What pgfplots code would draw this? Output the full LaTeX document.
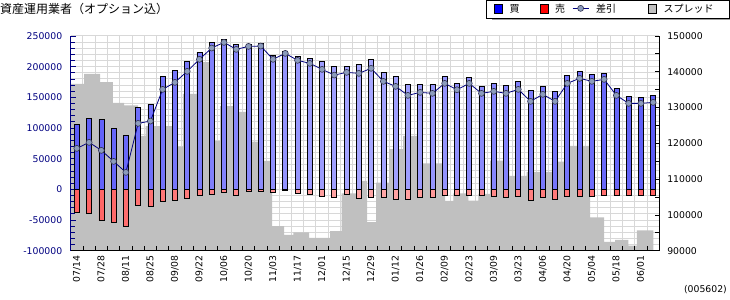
\documentclass[border=0pt]{standalone}
\usepackage{pgfplots}
\pgfplotsset{compat=1.18}
\usepackage{pgfplotstable}
\usepackage{fontspec}
\setmainfont{DejaVu Sans}
\newfontfamily\cjk{Noto Sans CJK JP}
\definecolor{navy}{HTML}{000080}
\definecolor{buyc}{HTML}{5C5CF8}
\definecolor{buyl}{HTML}{A8A8FF}
\definecolor{sellc}{HTML}{FF6060}
\definecolor{selll}{HTML}{FFAAAA}
\definecolor{spr}{HTML}{C0C0C0}
\definecolor{gridc}{HTML}{D8D8D8}
\definecolor{mk}{HTML}{8C9CBC}
\definecolor{mkd}{HTML}{303050}

\pgfplotstableread{
x buy sell net
0 105500 -37500 66800
1 115700 -39000 76600
2 114000 -51000 63600
3 99400 -53800 45600
4 88000 -60300 27700
5 133700 -26000 107600
6 138600 -27700 111300
7 184200 -20200 163000
8 194000 -18500 174400
9 208700 -15300 192400
10 223300 -9800 212000
11 239600 -8200 230400
12 243900 -5500 239600
13 236400 -10400 228200
14 236900 -3900 233100
15 238000 -3900 233600
16 217800 -5500 212000
17 225000 -1700 221700
18 216200 -7100 210300
19 212900 -8800 205400
20 208000 -11400 195600
21 200500 -13000 186300
22 200500 -8200 190700
23 204000 -14700 189100
24 212000 -13000 197300
25 190700 -13000 176100
26 184200 -16300 167900
27 171200 -16300 153200
28 171200 -13000 158100
29 171200 -13000 156500
30 184200 -9800 172800
31 172800 -9800 162400
32 182600 -9800 172800
33 167900 -9800 156500
34 172800 -11400 159800
35 169500 -13000 156500
36 176100 -11400 163000
37 161400 -17900 143500
38 167900 -13000 154900
39 159800 -16300 143500
40 185800 -11400 172800
41 192400 -11400 181000
42 187500 -11400 176100
43 189100 -9800 179300
44 164700 -9800 153200
45 151600 -9800 140200
46 150000 -9800 140200
47 153200 -9800 141800
}\flows

\pgfplotstableread{
x spread
-0.5 136600
0.59 139400
1.89 137100
2.93 131300
3.85 130600
5.00 122100
5.62 124800
7.76 119100
8.64 133800
9.78 142700
10.86 120600
11.68 130400
12.98 128800
14.04 120500
15.10 115100
15.92 96900
16.90 94400
17.66 95100
18.94 93600
20.65 95500
21.60 106000
22.77 109500
23.67 98000
24.40 109000
25.46 118400
26.60 122100
27.75 114400
30.03 103900
30.71 106000
31.93 104000
32.75 105900
33.70 115200
35.27 110900
36.69 112000
38.73 114900
39.74 119300
41.86 99300
43.00 92500
43.90 93000
44.98 91400
45.67 95700
47.02 95700
}\spread

\pgfplotsset{
  base/.style={scale only axis, width=588.6bp, height=214.7bp,
    at={(70.7bp,49.3bp)}, anchor=south west, xmin=-0.5, xmax=47.5,
    scaled y ticks=false},
}

\begin{document}
\begin{tikzpicture}
\useasboundingbox (0,0) rectangle (730bp,300bp);
% legend shadow
\fill[black!38] (492bp,279.5bp) rectangle (732bp,295bp);

% grid + x labels
\begin{axis}[base, ymin=-100000, ymax=250000,
  axis line style={draw=none}, tick style={draw=none},
  major tick length=0pt, minor tick length=0pt,
  ytick={-100000,-90000,...,250000}, yticklabels={},
  ymajorgrids=true,
  xtick={0,2,...,46},
  xticklabels={07/14,07/28,08/11,08/25,09/08,09/22,10/06,10/20,11/03,11/17,12/01,12/15,12/29,01/12,01/26,02/09,02/23,03/09,03/23,04/06,04/20,05/04,05/18,06/01},
  minor xtick={-0.5,0.5,...,47.5},
  xmajorgrids=false, xminorgrids=true,
  grid style={gridc, line width=1bp},
  minor grid style={gridc, line width=1bp},
  xticklabel style={rotate=90, anchor=east, font=\fontsize{9.3bp}{11bp}\selectfont, black, xshift=1.5bp},
  xticklabel shift=3bp,
]
\end{axis}

% spread (right axis)
\begin{axis}[base, ymin=90000, ymax=150000,
  axis x line=none, axis y line*=right,
  y axis line style={black, line width=1bp},
  ytick={90000,100000,110000,120000,130000,140000,150000},
  yticklabels={90000,100000,110000,120000,130000,140000,150000},
  minor y tick num=1,
  tick align=inside, major tick length=4.5bp, minor tick length=4.5bp,
  ytick style={black, line width=0.8bp},
  yticklabel style={font=\fontsize{9.3bp}{11bp}\selectfont, black},
  yticklabel shift=4.5bp,
]
\addplot[const plot, fill=spr, draw=none] table[x=x, y=spread] {\spread} \closedcycle;
\end{axis}

% flows (left axis)
\begin{axis}[base, ymin=-100000, ymax=250000,
  axis x line*=bottom, axis y line*=left,
  x axis line style={black, line width=1.5bp},
  y axis line style={navy, line width=1bp},
  ytick={-100000,-50000,0,50000,100000,150000,200000,250000},
  yticklabels={-100000,-50000,0,50000,100000,150000,200000,250000},
  minor y tick num=4,
  xtick={-0.5,0.5,...,47.5}, xticklabels={},
  tick align=inside, major tick length=5bp, minor tick length=4bp,
  ytick style={navy, line width=0.8bp},
  xtick style={black, line width=0.8bp},
  yticklabel style={font=\fontsize{9.3bp}{11bp}\selectfont, navy},
  yticklabel shift=5bp,
  legend columns=4,
  legend style={at={(axis description cs:1.12012,1.16768)}, anchor=north east,
    draw=black, fill=white, line width=0.8bp,
    font=\cjk\fontsize{10bp}{12bp}\selectfont,
    inner xsep=8bp, inner ysep=2bp,
    /tikz/every odd column/.append style={column sep=5bp}},
]
\addplot[ybar, bar width=5bp, bar shift=0pt, draw=black, line width=0.7bp,
  left color=buyc, right color=buyc, middle color=buyl, forget plot]
  table[x=x, y=buy] {\flows};
\addplot[ybar, bar width=5bp, bar shift=0pt, draw=black, line width=0.7bp,
  left color=sellc, right color=sellc, middle color=selll, forget plot]
  table[x=x, y=sell] {\flows};
\addplot[navy, line width=0.8bp, mark=*, mark size=3bp,
  mark options={fill=mk, draw=mkd, line width=0.6bp}, forget plot]
  table[x=x, y=net] {\flows};

\addlegendimage{legend image code/.code={\draw[fill=blue, draw=black, line width=0.6bp] (0bp,-3.5bp) rectangle (8bp,5.5bp);}}
\addlegendentry{買\hspace*{18bp}}
\addlegendimage{legend image code/.code={\draw[fill=red, draw=black, line width=0.6bp] (0bp,-3.5bp) rectangle (8bp,5.5bp);}}
\addlegendentry{売\hspace*{5bp}}
\addlegendimage{legend image code/.code={\draw[navy, line width=0.8bp] (0bp,1bp) -- (16bp,1bp); \draw[fill=mk, draw=mkd, line width=0.6bp] (8bp,1bp) circle (3bp);}}
\addlegendentry{差引\hspace*{30bp}}
\addlegendimage{legend image code/.code={\draw[fill=spr, draw=black, line width=0.6bp] (0bp,-3.5bp) rectangle (8bp,5.5bp);}}
\addlegendentry{スプレッド\hspace*{6bp}}
\end{axis}

\node[anchor=west, inner sep=0pt, font=\cjk\fontsize{12bp}{14bp}\selectfont] at (0bp,291bp) {資産運用業者（オプション込）};
\node[anchor=east, inner sep=0pt, font=\fontsize{9.3bp}{11bp}\selectfont] at (727bp,10bp) {(005602)};
\end{tikzpicture}
\end{document}
